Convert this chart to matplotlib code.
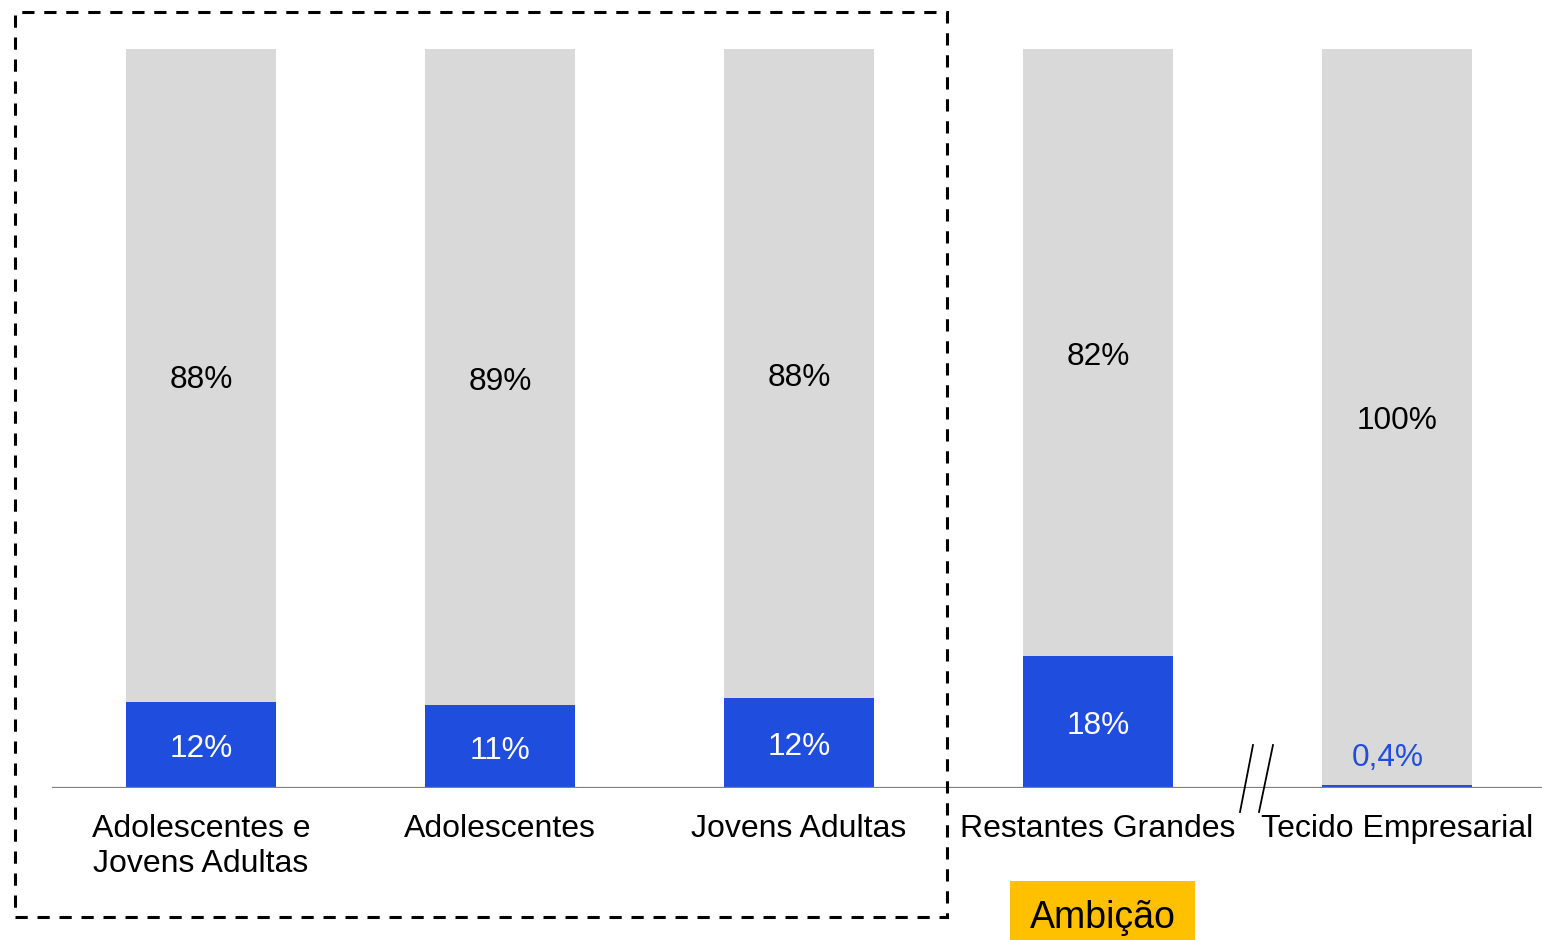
import matplotlib
matplotlib.use("Agg")
import matplotlib.pyplot as plt
from matplotlib.patches import Rectangle
from matplotlib.lines import Line2D

plt.rcParams['font.family'] = ['Liberation Sans', 'DejaVu Sans']

categories = ["Adolescentes e\nJovens Adultas", "Adolescentes", "Jovens Adultas",
              "Restantes Grandes", "Tecido Empresarial"]
blue_values = [11.7, 11.2, 12.2, 17.9, 0.4]
grey_values = [100 - v for v in blue_values]
blue_labels = ["12%", "11%", "12%", "18%", "0,4%"]
grey_labels = ["88%", "89%", "88%", "82%", "100%"]

BLUE = "#1F4EDF"
GREY = "#D9D9D9"
YELLOW = "#FFC000"

W, H = 1542, 940
fig = plt.figure(figsize=(W / 100, H / 100), dpi=100)
ax = fig.add_axes([52 / W, (H - 788) / H, (W - 52) / W, (788 - 49) / H])

x = list(range(len(categories)))
ax.bar(x, blue_values, width=0.5, color=BLUE, zorder=2)
ax.bar(x, grey_values, width=0.5, bottom=blue_values, color=GREY, zorder=2)

ax.set_xlim(-0.498, 4.485)
ax.set_ylim(0, 100)
ax.axhline(0, color="#7F7F7F", lw=1.6, zorder=3)
for s in ax.spines.values():
    s.set_visible(False)
ax.set_xticks([])
ax.set_yticks([])

fs = 22.8
dy = -0.6
for i in x:
    b = blue_values[i]
    g = grey_values[i]
    ax.text(i, b + g / 2 + dy, grey_labels[i], ha="center", va="center", fontsize=fs, color="black")
    if b > 2:
        ax.text(i, b / 2 + dy, blue_labels[i], ha="center", va="center", fontsize=fs, color="white")
    else:
        ax.text(i - 0.03, 4.6 + dy, blue_labels[i], ha="center", va="center", fontsize=fs, color=BLUE)
    ax.text(i, -3.5, categories[i], ha="center", va="top", fontsize=23.0, color="black",
            linespacing=1.22, clip_on=False)

# dashed box around first three categories
fig.patches.append(Rectangle((15 / W, (H - 917) / H), 932 / W, 905 / H, transform=fig.transFigure,
                             fill=False, edgecolor="black", lw=2.2, linestyle=(0, (4, 3.2))))

# axis break marks
for x0, x1 in [(1253, 1240), (1273, 1259)]:
    fig.lines.append(Line2D([x0 / W, x1 / W], [(H - 745) / H, (H - 812) / H],
                            transform=fig.transFigure, color="black", lw=1.3))

# Ambição box
fig.patches.append(Rectangle((1010 / W, 0), 185 / W, (H - 881) / H, transform=fig.transFigure,
                             facecolor=YELLOW, edgecolor="none"))
fig.text(1103 / W, (H - 918) / H, "Ambição", ha="center", va="center", fontsize=27, color="black")

fig.savefig("out.png", dpi=100, facecolor="white")
